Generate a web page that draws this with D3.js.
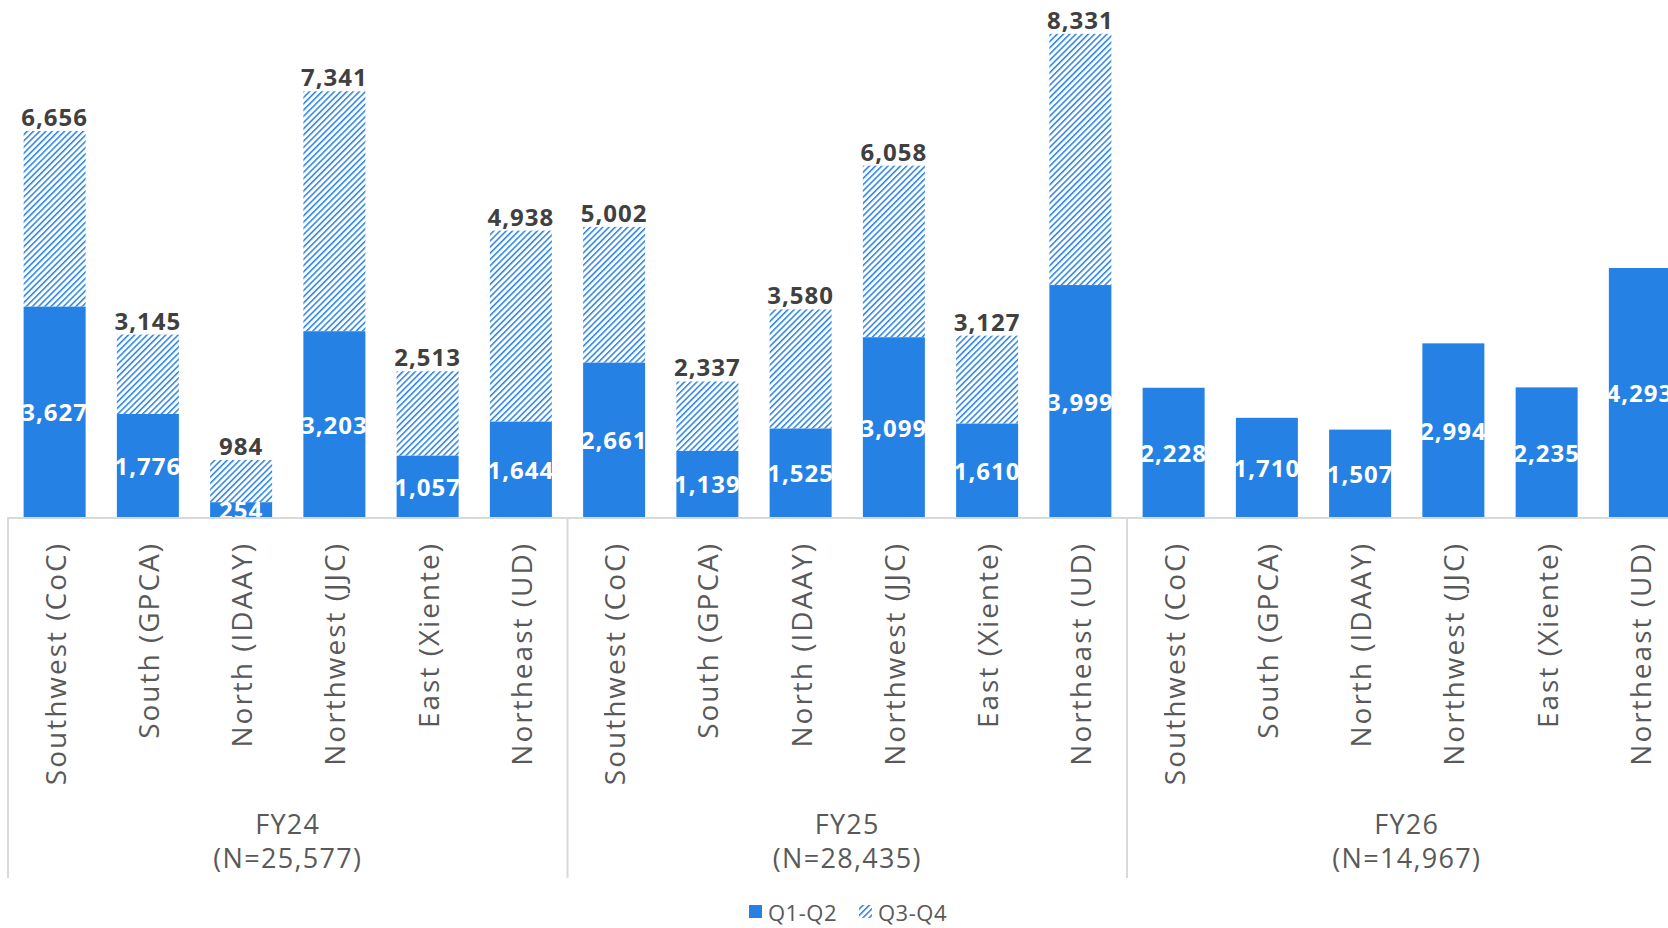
<!DOCTYPE html>
<html>
<head>
<meta charset="utf-8">
<script src="https://cdn.jsdelivr.net/npm/d3@7"></script>
<style>
  html, body { margin: 0; padding: 0; background: #fff; }
  svg { display: block; font-family: "Open Sans", "Noto Sans", sans-serif; }
</style>
</head>
<body>
<svg id="chart" width="1668" height="928"></svg>
<script>
// ---- data ----
const groups = ["FY24", "FY25", "FY26"];
const groupN = ["(N=25,577)", "(N=28,435)", "(N=14,967)"];
const regions = ["Southwest (CoC)", "South (GPCA)", "North (IDAAY)", "Northwest (JJC)", "East (Xiente)", "Northeast (UD)"];
const q1q2 = [
  [3627, 1776, 254, 3203, 1057, 1644],
  [2661, 1139, 1525, 3099, 1610, 3999],
  [2228, 1710, 1507, 2994, 2235, 4293]
];
const q3q4 = [
  [3029, 1369, 730, 4138, 1456, 3294],
  [2341, 1198, 2055, 2959, 1517, 4332],
  [null, null, null, null, null, null]
];
const seriesNames = ["Q1-Q2", "Q3-Q4"];

// ---- layout ----
const blue = "#2581e3";
const gridCol = "#d9d9d9";
const textCol = "#595959";
const baseY = 517;
const left = 8;
const step = 93.25;

const svg = d3.select("#chart");
const defs = svg.append("defs");
const pat = defs.append("pattern")
  .attr("id", "hatch").attr("patternUnits", "userSpaceOnUse")
  .attr("width", 4.4).attr("height", 4.4)
  .attr("patternTransform", "rotate(45)");
pat.append("rect").attr("x", 0).attr("y", 0).attr("width", 1.5).attr("height", 4.4)
  .attr("fill", blue);

const x0 = d3.scaleBand().domain(groups).range([left, left + 18 * step]).padding(0);
const x1 = d3.scaleBand().domain(regions).range([0, x0.bandwidth()])
  .paddingInner(0.335).paddingOuter(0.1675);
const y = d3.scaleLinear().domain([0, 9000]).range([baseY, -5]);

const fmt = d3.format(",");

// bars
groups.forEach((g, gi) => {
  const gx = x0(g);
  const gEl = svg.append("g").attr("transform", `translate(${gx},0)`);
  regions.forEach((r, ri) => {
    const a = q1q2[gi][ri];
    const b = q3q4[gi][ri];
    const bx = x1(r), bw = x1.bandwidth();
    gEl.append("rect").attr("x", bx).attr("width", bw)
      .attr("y", y(a)).attr("height", y(0) - y(a)).attr("fill", blue);
    if (b != null) {
      gEl.append("rect").attr("x", bx).attr("width", bw)
        .attr("y", y(a + b)).attr("height", y(a) - y(a + b)).attr("fill", "url(#hatch)");
      gEl.append("text").attr("x", bx + bw / 2).attr("y", y(a + b) - 5)
        .attr("text-anchor", "middle").attr("font-size", 24).attr("font-weight", 700)
        .attr("letter-spacing", 1)
        .attr("fill", "#404040").text(fmt(a + b));
    }
    gEl.append("text").attr("x", bx + bw / 2).attr("y", (y(a) + y(0)) / 2)
      .attr("text-anchor", "middle").attr("dominant-baseline", "central")
      .attr("font-size", 24).attr("font-weight", 700).attr("letter-spacing", 1)
      .attr("fill", "#fff").text(fmt(a));
    // category label
    gEl.append("text")
      .attr("transform", `translate(${bx + bw / 2},542) rotate(-90)`)
      .attr("text-anchor", "end").attr("dominant-baseline", "central")
      .attr("font-size", 28).attr("letter-spacing", 2)
      .attr("fill", textCol).text(r);
  });
  gEl.append("text").attr("x", x0.bandwidth() / 2).attr("y", 823)
    .attr("text-anchor", "middle").attr("dominant-baseline", "central")
    .attr("font-size", 27).attr("letter-spacing", 1.3).attr("fill", textCol).text(g);
  gEl.append("text").attr("x", x0.bandwidth() / 2).attr("y", 857)
    .attr("text-anchor", "middle").attr("dominant-baseline", "central")
    .attr("font-size", 27).attr("letter-spacing", 1.3).attr("fill", textCol).text(groupN[gi]);
});

// axis lines
svg.append("line").attr("x1", left).attr("x2", 1668).attr("y1", baseY + 1).attr("y2", baseY + 1)
  .attr("stroke", gridCol).attr("stroke-width", 2);
groups.concat(["end"]).forEach((g, i) => {
  const xx = i < groups.length ? x0(g) : x0.range()[1];
  svg.append("line").attr("x1", xx).attr("x2", xx).attr("y1", baseY).attr("y2", 878)
    .attr("stroke", gridCol).attr("stroke-width", 2);
});

// legend
const leg = svg.append("g");
const legX = [749, 859];
seriesNames.forEach((s, i) => {
  leg.append("rect").attr("x", legX[i]).attr("y", 905).attr("width", 13).attr("height", 13)
    .attr("fill", i === 0 ? blue : "url(#hatch)");
  leg.append("text").attr("x", legX[i] + 19).attr("y", 912)
    .attr("dominant-baseline", "central").attr("font-size", 22).attr("letter-spacing", 0.5)
    .attr("fill", textCol).text(s);
});
</script>
</body>
</html>
